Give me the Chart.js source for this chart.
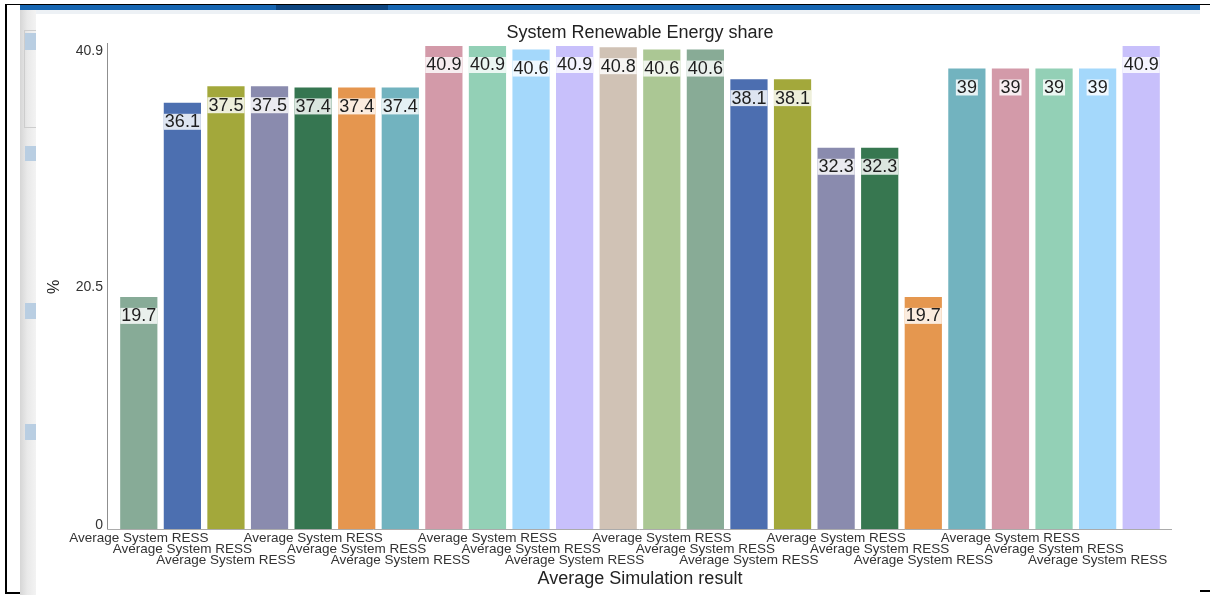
<!DOCTYPE html>
<html>
<head>
<meta charset="utf-8">
<title>System Renewable Energy share</title>
<script src="https://cdn.jsdelivr.net/npm/chart.js@4.4.1/dist/chart.umd.min.js"></script>
<style>
  html, body { margin: 0; padding: 0; background: #fff; width: 1210px; height: 595px; overflow: hidden; position: relative; }
  .frame { position: absolute; }
  #chartBox { position: absolute; left: 0; top: 0; width: 1210px; height: 595px; }
</style>
</head>
<body>
<!-- window chrome around the report panel -->
<div class="frame" style="left:5px;top:4px;width:1205px;height:1px;background:#000"></div>
<div class="frame" style="left:5px;top:4px;width:2px;height:590px;background:#000"></div>
<div class="frame" style="left:5px;top:592px;width:15px;height:2px;background:#000"></div>
<div class="frame" style="left:1200px;top:590px;width:10px;height:2px;background:#000"></div>
<div class="frame" style="left:20px;top:5px;width:1180px;height:5px;background:#1766b2"></div>
<div class="frame" style="left:276px;top:5px;width:112px;height:5px;background:#0d4580"></div>
<div class="frame" style="left:20px;top:10px;width:1180px;height:4px;background:#edf1f5"></div>
<div class="frame" style="left:20px;top:10px;width:16px;height:585px;background:linear-gradient(to right,#d6d6d6,#e9e9e9 45%,#f3f3f3)"></div>
<div class="frame" style="left:24px;top:30px;width:12px;height:98px;border:1px solid #cdcdcd;border-right:none;box-sizing:border-box"></div>
<div class="frame" style="left:25px;top:33px;width:11px;height:17px;background:#b9cee2"></div>
<div class="frame" style="left:25px;top:146px;width:11px;height:15px;background:#b9cee2"></div>
<div class="frame" style="left:25px;top:303px;width:11px;height:16px;background:#b9cee2"></div>
<div class="frame" style="left:25px;top:424px;width:11px;height:16px;background:#b9cee2"></div>

<div id="chartBox"><canvas id="shareChart" width="1210" height="595"></canvas></div>

<script>
// Scenario results: renewable share of the system, in percent
const chartTitle = 'System Renewable Energy share';
const xAxisTitle = 'Average Simulation result';
const yAxisTitle = '%';

const categories = [
  'Average System RESS', 'Average System RESS', 'Average System RESS', 'Average System RESS',
  'Average System RESS', 'Average System RESS', 'Average System RESS', 'Average System RESS',
  'Average System RESS', 'Average System RESS', 'Average System RESS', 'Average System RESS',
  'Average System RESS', 'Average System RESS', 'Average System RESS', 'Average System RESS',
  'Average System RESS', 'Average System RESS', 'Average System RESS', 'Average System RESS',
  'Average System RESS', 'Average System RESS', 'Average System RESS', 'Average System RESS'
];

const shareValues = [
  19.7, 36.1, 37.5, 37.5, 37.4, 37.4, 37.4, 40.9,
  40.9, 40.6, 40.9, 40.8, 40.6, 40.6, 38.1, 38.1,
  32.3, 32.3, 19.7, 39, 39, 39, 39, 40.9
];

const barColors = [
  '#87ab97', '#4c6fb0', '#a3a83b', '#8a8bae', '#367651', '#e5964f', '#72b3bf', '#d39aa9',
  '#93d0b6', '#a4d8fb', '#c8c0fb', '#d0c2b5', '#abc794', '#88ab96', '#4c6eb0', '#a3a83b',
  '#8a8bae', '#377750', '#e5974f', '#72b3bf', '#d39aa9', '#93d0b6', '#a4d8fb', '#c8c0fb'
];

const yMax = 40.9;
const yTickValues = [0, 20.45, 40.9];
const yTickLabels = ['0', '20.5', '40.9'];

const FONT = '"Liberation Sans", Arial, Helvetica, sans-serif';
Chart.defaults.font.family = FONT;

// Axis lines sit a little outside the band of bars
const axisLines = {
  id: 'axisLines',
  afterDatasetsDraw(chart) {
    const { ctx, chartArea: a } = chart;
    const x0 = Math.round(a.left - 10) + 0.5;
    const yb = Math.round(a.bottom) + 0.5;
    ctx.save();
    ctx.lineWidth = 1;
    ctx.strokeStyle = '#8f8f8f';
    ctx.beginPath();
    ctx.moveTo(x0, a.top - 2);
    ctx.lineTo(x0, yb);
    ctx.stroke();
    ctx.strokeStyle = '#ababab';
    ctx.beginPath();
    ctx.moveTo(x0, yb);
    ctx.lineTo(a.right + 9, yb);
    ctx.stroke();
    ctx.restore();
  }
};

// Value tag near the top of every bar, on a light backing box
const valueTags = {
  id: 'valueTags',
  afterDatasetsDraw(chart) {
    const { ctx } = chart;
    const values = chart.data.datasets[0].data;
    const meta = chart.getDatasetMeta(0);
    ctx.save();
    ctx.font = '18px ' + FONT;
    ctx.textAlign = 'center';
    ctx.textBaseline = 'middle';
    meta.data.forEach((bar, i) => {
      const txt = String(values[i]);
      const w = ctx.measureText(txt).width;
      const cy = bar.y + 20;
      ctx.fillStyle = 'rgba(255,255,255,0.82)';
      ctx.fillRect(bar.x - w / 2 - 1, cy - 8, w + 2, 16);
      ctx.fillStyle = '#1e1e1e';
      ctx.fillText(txt, bar.x, cy + 0.5);
    });
    ctx.restore();
  }
};

new Chart(document.getElementById('shareChart'), {
  type: 'bar',
  data: {
    labels: categories,
    datasets: [{
      data: shareValues,
      backgroundColor: barColors,
      borderColor: 'rgba(255,255,255,0.55)',
      borderWidth: 1,
      barPercentage: 0.9,
      categoryPercentage: 1.0
    }]
  },
  options: {
    responsive: false,
    animation: false,
    layout: { padding: { left: 36, right: 47, top: 0, bottom: 0 } },
    plugins: {
      legend: { display: false },
      tooltip: { enabled: false },
      title: {
        display: true,
        text: chartTitle,
        fullSize: false,
        color: '#222',
        font: { size: 18, weight: 'normal' },
        padding: { top: 22.5, bottom: 0.9 }
      }
    },
    scales: {
      x: {
        type: 'category',
        grid: { display: false, drawTicks: false },
        border: { display: false },
        ticks: {
          autoSkip: false,
          maxRotation: 0,
          minRotation: 0,
          padding: 4,
          color: '#333',
          font: { size: 13.5, lineHeight: 0.815 },
          // names are staggered over three rows; every fourth one is left out
          callback(value, index) {
            const slot = index % 4;
            if (slot === 3) return '';
            const lines = [];
            for (let k = 0; k < slot; k++) lines.push('');
            lines.push(this.getLabelForValue(value));
            return lines;
          }
        },
        title: {
          display: true,
          text: xAxisTitle,
          color: '#222',
          font: { size: 18 },
          padding: { top: 0, bottom: 4.7 }
        },
        afterFit(scale) { scale.height = 66; }
      },
      y: {
        min: 0,
        max: yMax,
        grid: { display: false, drawTicks: false },
        border: { display: false },
        afterBuildTicks(scale) { scale.ticks = yTickValues.map(v => ({ value: v })); },
        ticks: {
          padding: 14,
          color: '#333',
          // end labels are nudged inward, the top one down and the bottom one up
          font(ctx) {
            const last = yTickValues.length - 1;
            if (ctx.index === last) return { size: 14, lineHeight: '12px' };
            if (ctx.index === 0) return { size: 14, lineHeight: '8px' };
            return { size: 14 };
          },
          callback(value, index) {
            const last = yTickValues.length - 1;
            if (index === last) return ['', yTickLabels[index]];
            if (index === 0) return [yTickLabels[index], ''];
            return yTickLabels[index];
          }
        },
        title: {
          display: true,
          text: yAxisTitle,
          color: '#222',
          font: { size: 16 },
          padding: { top: 9.4, bottom: 0 }
        },
        afterFit(scale) { scale.width = 81; }
      }
    }
  },
  plugins: [axisLines, valueTags]
});
</script>
</body>
</html>
